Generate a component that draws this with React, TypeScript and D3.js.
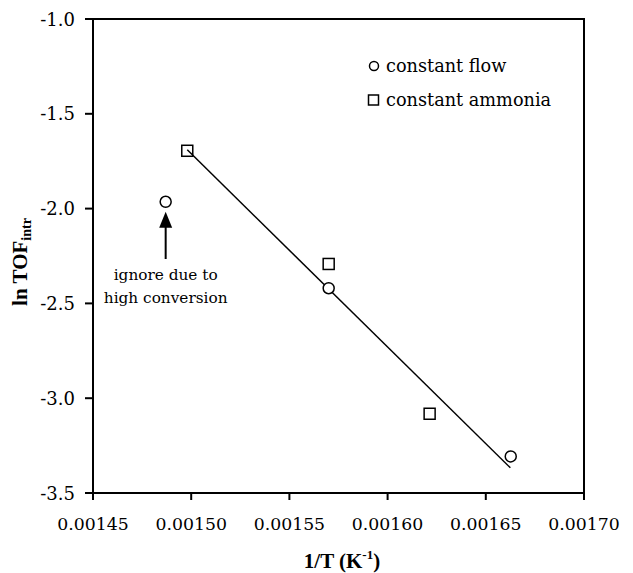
import React from "react";
import * as d3 from "d3";

// Arrhenius data: 1/T (K^-1) vs ln TOF_intr
const flowX = [0.001487, 0.00157, 0.0016627];
const flowY = [-1.964, -2.42, -3.307];
const ammoniaX = [0.001498, 0.00157, 0.0016214];
const ammoniaY = [-1.695, -2.292, -3.082];
// fitted line endpoints
const fitX = [0.001498, 0.0016625];
const fitY = [-1.69, -3.367];
// point excluded from fit (annotated)
const ignoredX = 0.001487;
const ignoredY = -1.964;

const xTicks = [0.00145, 0.0015, 0.00155, 0.0016, 0.00165, 0.0017];
const yTicks = [-1.0, -1.5, -2.0, -2.5, -3.0, -3.5];

const W = 633;
const H = 573;
const left = 93;
const right = 584;
const top = 19;
const bottom = 493;

const font = "'Liberation Serif', 'DejaVu Serif', serif";
const plainFont = "'DejaVu Serif', serif";

export default function App() {
  const x = d3.scaleLinear().domain([0.00145, 0.0017]).range([left, right]);
  const y = d3.scaleLinear().domain([-1.0, -3.5]).range([top, bottom]);
  const line = d3
    .line<number>()
    .x((d, i) => x(fitX[i]))
    .y((d) => y(d));

  const ax = x(ignoredX);
  const ay = y(ignoredY);

  return (
    <svg
      width={W}
      height={H}
      style={{ position: "absolute", left: 0, top: 0, background: "#fff", fontFamily: plainFont }}
    >
      <rect x={0} y={0} width={W} height={H} fill="#fff" />
      {/* frame */}
      <rect x={left} y={top} width={right - left} height={bottom - top} fill="none" stroke="#000" strokeWidth={2} />

      {/* y axis ticks */}
      {yTicks.map((t) => (
        <g key={"y" + t}>
          <line x1={left - 8} x2={left} y1={y(t)} y2={y(t)} stroke="#000" strokeWidth={2} />
          <text x={75} y={y(t) + 6.5} textAnchor="end" fontSize={18} style={{ fontFamily: plainFont }}>
            {t.toFixed(1)}
          </text>
        </g>
      ))}

      {/* x axis ticks */}
      {xTicks.map((t) => (
        <g key={"x" + t}>
          <line x1={x(t)} x2={x(t)} y1={bottom} y2={bottom + 7} stroke="#000" strokeWidth={2} />
          <text x={x(t)} y={530} textAnchor="middle" fontSize={17.3} style={{ fontFamily: plainFont }}>
            {t.toFixed(5)}
          </text>
        </g>
      ))}

      {/* axis titles */}
      <text x={342} y={568} textAnchor="middle" fontSize={21} fontWeight="bold" style={{ fontFamily: font }}>
        1/T (K
        <tspan fontSize={13} dy={-9}>-1</tspan>
        <tspan dy={9}>)</tspan>
      </text>
      <text
        transform={`translate(27, 262) rotate(-90)`}
        textAnchor="middle"
        fontSize={21}
        fontWeight="bold"
        style={{ fontFamily: font }}
      >
        ln TOF
        <tspan fontSize={14} dy={4}>intr</tspan>
      </text>

      {/* fit line */}
      <path d={line(fitY) || ""} fill="none" stroke="#000" strokeWidth={1.5} />

      {/* constant flow points */}
      {flowX.map((v, i) => (
        <circle key={"c" + i} cx={x(v)} cy={y(flowY[i])} r={5.5} fill="#fff" stroke="#000" strokeWidth={1.5} />
      ))}
      {/* constant ammonia points */}
      {ammoniaX.map((v, i) => (
        <rect
          key={"s" + i}
          x={x(v) - 5.5}
          y={y(ammoniaY[i]) - 5.5}
          width={11}
          height={11}
          fill="none"
          stroke="#000"
          strokeWidth={1.5}
        />
      ))}

      {/* annotation arrow */}
      <line x1={ax} x2={ax} y1={259} y2={226} stroke="#000" strokeWidth={2} />
      <path d={`M${ax},${ay + 10} L${ax - 6.5},${ay + 26} L${ax + 6.5},${ay + 26} Z`} fill="#000" />
      <text x={ax} y={280} textAnchor="middle" fontSize={15.3} style={{ fontFamily: plainFont }}>
        ignore due to
      </text>
      <text x={ax} y={303} textAnchor="middle" fontSize={15.3} style={{ fontFamily: plainFont }}>
        high conversion
      </text>

      {/* legend */}
      <circle cx={374} cy={66} r={4.5} fill="none" stroke="#000" strokeWidth={1.5} />
      <text x={386} y={72} fontSize={17.7} style={{ fontFamily: plainFont }}>
        constant flow
      </text>
      <rect x={368.5} y={95} width={10} height={10} fill="none" stroke="#000" strokeWidth={1.5} />
      <text x={386} y={106} fontSize={17.7} style={{ fontFamily: plainFont }}>
        constant ammonia
      </text>
    </svg>
  );
}
